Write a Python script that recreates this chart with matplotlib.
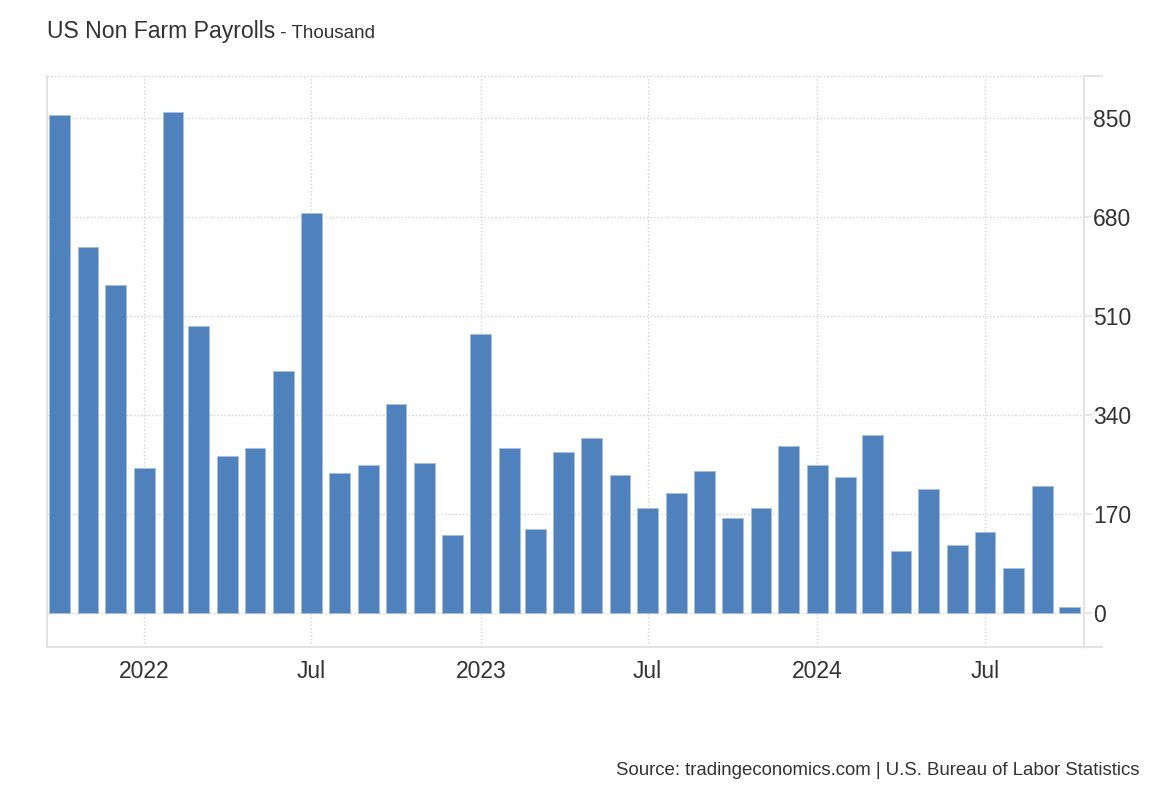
import matplotlib
matplotlib.use('Agg')
import matplotlib.pyplot as plt
import pandas as pd
from datetime import datetime
from matplotlib.lines import Line2D

plt.rcParams['font.family'] = ['Liberation Sans', 'DejaVu Sans']

# monthly change, thousand (Oct 2021 .. Oct 2024)
months = pd.date_range('2021-10-01', '2024-10-01', freq='MS')
payrolls = [856, 629, 563,
            250, 861, 493, 270, 283, 416, 688, 240, 254, 360, 257, 134,
            480, 283, 144, 277, 300, 237, 180, 207, 244, 164, 180, 287,
            254, 233, 306, 107, 214, 117, 140, 78, 219, 11]

xtick_dates = pd.to_datetime(['2022-01-01', '2022-07-01', '2023-01-01',
                              '2023-07-01', '2024-01-01', '2024-07-01'])
xtick_labels = ['2022', 'Jul', '2023', 'Jul', '2024', 'Jul']
yticks = [0, 170, 340, 510, 680, 850]

title = 'US Non Farm Payrolls'
subtitle = ' - Thousand'
source = 'Source: tradingeconomics.com | U.S. Bureau of Labor Statistics'

bar_color = '#4f81bd'
text_color = '#333333'
axis_color = '#e3e3e3'
grid_color = '#d4d4d4'

fig = plt.figure(figsize=(11.6, 7.92), dpi=100)
ax = fig.add_axes([47 / 1160, 1 - 647 / 792, (1084 - 47) / 1160, (647 - 76) / 792])

ax.bar(months, payrolls, width=22.5, color=bar_color,
       edgecolor='#a8c0e0', linewidth=0.7, zorder=3)

ax.set_xlim(datetime(2021, 9, 17, 10), datetime(2024, 10, 16, 10))
ax.set_ylim(-58.4, 923)

ax.set_xticks(xtick_dates)
ax.set_xticklabels(xtick_labels)
ax.set_yticks(yticks)
ax.set_yticklabels([str(v) for v in yticks])

ax.yaxis.tick_right()
ax.tick_params(axis='x', length=0, pad=9, labelsize=16.5, labelcolor=text_color)
ax.tick_params(axis='y', length=6, width=1.2, color=axis_color, pad=0.5,
               labelsize=16.5, labelcolor=text_color)

dots = (0, (1, 1.6))
ax.grid(True, linestyle=dots, color=grid_color, linewidth=1.0, zorder=0)
ax.axhline(ax.get_ylim()[1], linestyle=dots, color=grid_color, linewidth=1.0,
           clip_on=False, zorder=0)

ax.spines['top'].set_visible(False)
for side in ['left', 'right', 'bottom']:
    ax.spines[side].set_color(axis_color)
    ax.spines[side].set_linewidth(1.5)

# little stubs past the right axis (top and bottom)
for yy in [0, 1]:
    ax.add_line(Line2D([1, 1 + 18 / 1037], [yy, yy], transform=ax.transAxes,
                       color=axis_color, linewidth=1.5, clip_on=False))

t1 = fig.text(47 / 1160, 1 - 38 / 792, title, fontsize=16.6,
              color=text_color, va='baseline', ha='left')
fig.canvas.draw()
bb = t1.get_window_extent()
fig.text(bb.x1 / fig.bbox.width, 1 - 38 / 792, subtitle, fontsize=13.6,
         color=text_color, va='baseline', ha='left')

fig.text(1140 / 1160, 1 - 775 / 792, source, fontsize=13.4,
         color=text_color, va='baseline', ha='right')

fig.savefig('out.png', dpi=100, facecolor='white')
